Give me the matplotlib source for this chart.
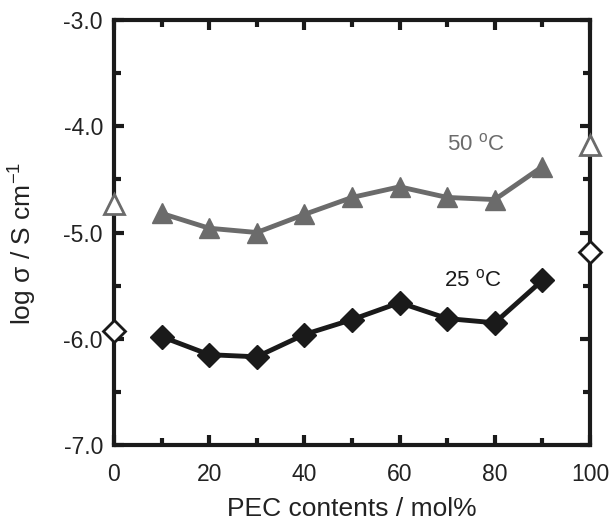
import matplotlib
matplotlib.use("Agg")
import matplotlib.pyplot as plt
from matplotlib.ticker import MultipleLocator, FormatStrFormatter

plt.rcParams['font.family'] = ['Liberation Sans', 'DejaVu Sans']
plt.rcParams['mathtext.fontset'] = 'custom'
plt.rcParams['mathtext.rm'] = 'Liberation Sans'
plt.rcParams['mathtext.it'] = 'Liberation Sans:italic'
plt.rcParams['mathtext.bf'] = 'Liberation Sans:bold'

pec = [10, 20, 30, 40, 50, 60, 70, 80, 90]
s50 = [-4.82, -4.96, -5.00, -4.83, -4.67, -4.57, -4.67, -4.69, -4.38]
s25 = [-5.98, -6.15, -6.17, -5.96, -5.82, -5.66, -5.81, -5.85, -5.45]
end_x = [0, 100]
end50 = [-4.73, -4.18]
end25 = [-5.93, -5.18]

gray = '#6b6b6b'
black = '#1a1a1a'

fig = plt.figure(figsize=(6.11, 5.22), dpi=100)
ax = fig.add_axes([114/611, 1-445/522, (590-114)/611, (445-20)/522])

ax.plot(pec, s50, color=gray, lw=3.5, marker='^', ms=15, mfc=gray, mec=gray, zorder=3)
ax.plot(pec, s25, color=black, lw=3.5, marker='D', ms=12, mfc=black, mec=black, zorder=3)
ax.plot(end_x, end50, ls='none', marker='^', ms=14, mfc='white', mec=gray, mew=2, clip_on=False, zorder=5)
ax.plot(end_x, end25, ls='none', marker='D', ms=11, mfc='white', mec=black, mew=2, clip_on=False, zorder=5)

ax.set_xlim(0, 100)
ax.set_ylim(-7, -3)
ax.xaxis.set_major_locator(MultipleLocator(20))
ax.xaxis.set_minor_locator(MultipleLocator(10))
ax.yaxis.set_major_locator(MultipleLocator(1.0))
ax.yaxis.set_minor_locator(MultipleLocator(0.5))
ax.yaxis.set_major_formatter(FormatStrFormatter('%.1f'))
ax.tick_params(which='both', direction='in', top=True, right=True, width=3, color=black,
               labelsize=16.5, labelcolor='#222222')
ax.tick_params(axis='x', pad=13)
ax.tick_params(axis='y', pad=8)
ax.tick_params(which='major', length=7)
ax.tick_params(which='minor', length=5)
for sp in ax.spines.values():
    sp.set_linewidth(3)
    sp.set_color(black)

ax.set_xlabel('PEC contents / mol%', fontsize=19, color='#222222')
ax.xaxis.label.set_va('baseline')
ax.xaxis.set_label_coords(0.5, -0.167)
ax.set_ylabel('log σ / S cm$^{\\mathrm{-1}}$', fontsize=19, color='#222222')
ax.yaxis.set_label_coords(-0.157, 0.475)

ax.text(82, -4.17, '50 $^{\\mathrm{o}}$C', color=gray, fontsize=16, ha='right', va='center')
ax.text(81.5, -5.45, '25 $^{\\mathrm{o}}$C', color=black, fontsize=16, ha='right', va='center')

fig.savefig('out.png', dpi=100)
